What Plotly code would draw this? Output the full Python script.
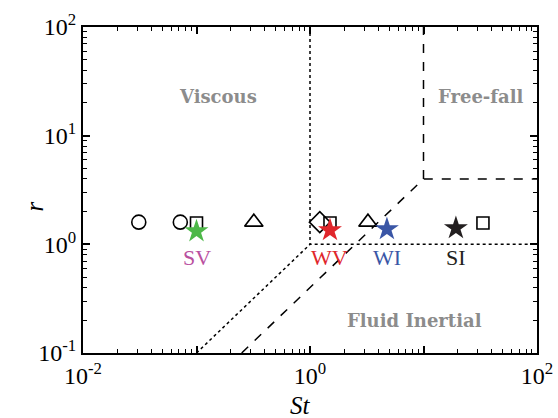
import plotly.graph_objects as go
import numpy as np

# Data points (St, r)
circle_st = [0.031, 0.072]
circle_r = [1.6, 1.6]
square_st = [0.1, 1.5, 33.4]
square_r = [1.57, 1.57, 1.57]
triangle_st = [0.32, 3.24]
triangle_r = [1.6, 1.6]
diamond_st = [1.22]
diamond_r = [1.6]
star_st = [0.1, 1.5, 4.76, 19.3]
star_r = [1.32, 1.35, 1.38, 1.41]
star_colors = ["#4db848", "#e0262b", "#3a56a6", "#231f20"]
star_labels = ["SV", "WV", "WI", "SI"]
label_colors = ["#b9509f", "#e0262b", "#3a56a6", "#231f20"]
label_r = 0.75

# Regime boundaries
dot_a_st = [1, 1, 100]
dot_a_r = [100, 1, 1]
dot_b_st = [0.1, 1]
dot_b_r = [0.1, 1]
dash_a_st = [0.25, 10, 100]
dash_a_r = [0.1, 4, 4]
dash_b_st = [10, 10]
dash_b_r = [4, 100]

regions = ["Viscous", "Free-fall", "Fluid Inertial"]
region_st = [0.155, 32, 8.4]
region_r = [23, 23, 0.2]

FONT = "Liberation Serif"
fig = go.Figure()

def line(x, y, dash):
    fig.add_trace(go.Scatter(x=x, y=y, mode="lines",
                             line=dict(color="black", width=1.5, dash=dash),
                             showlegend=False, hoverinfo="skip"))

line(dot_a_st, dot_a_r, "dot")
line(dot_b_st, dot_b_r, "dot")
line(dash_a_st, dash_a_r, "dash")
line(dash_b_st, dash_b_r, "dash")

def markers(x, y, symbol, size):
    fig.add_trace(go.Scatter(x=x, y=y, mode="markers",
                             marker=dict(symbol=symbol, size=size, color="black",
                                         line=dict(color="black", width=1.6)),
                             showlegend=False))

markers(circle_st, circle_r, "circle-open", 14)
markers(triangle_st, triangle_r, "triangle-up-open", 16)
markers(diamond_st, diamond_r, "diamond-open", 16)
markers(square_st, square_r, "square-open", 12)

fig.add_trace(go.Scatter(x=star_st, y=star_r, mode="markers",
                         marker=dict(symbol="star", size=18, color=star_colors,
                                     line=dict(width=0)),
                         showlegend=False))

for s, lab, c in zip(star_st, star_labels, label_colors):
    fig.add_annotation(x=np.log10(s), y=np.log10(label_r), text=lab, showarrow=False,
                       font=dict(family=FONT, size=22, color=c))

for t, s, r in zip(regions, region_st, region_r):
    fig.add_annotation(x=np.log10(s), y=np.log10(r), text="<b>" + t + "</b>", showarrow=False,
                       font=dict(family="DejaVu Serif", size=18, color="#8c8c8c"))

def minor_vals(lo, hi):
    out = []
    for e in range(lo, hi):
        for m in range(2, 10):
            out.append(m * 10 ** e)
    return out

x_major = [0.01, 0.1, 1, 10, 100]
x_text = ["10<sup>-2</sup>", "", "10<sup>0</sup>", "", "10<sup>2</sup>"]
y_major = [0.1, 1, 10, 100]
y_text = ["10<sup>-1</sup>", "10<sup>0</sup>", "10<sup>1</sup>", "10<sup>2</sup>"]

axis_common = dict(type="log", showgrid=False, zeroline=False, showline=True,
                   linecolor="black", linewidth=2, mirror="ticks", ticks="inside",
                   ticklen=7, tickwidth=1.5, tickcolor="black", automargin=False,
                   tickfont=dict(family=FONT, size=24, color="black"))

fig.update_xaxes(range=[-2, 2], tickmode="array", tickvals=x_major, ticktext=x_text,
                 minor=dict(tickmode="array", tickvals=minor_vals(-2, 2), ticks="inside",
                            ticklen=4, tickwidth=1.2, tickcolor="black"),
                 **axis_common)
fig.update_yaxes(range=[-1, 2], tickmode="array", tickvals=y_major, ticktext=y_text,
                 minor=dict(tickmode="array", tickvals=minor_vals(-1, 2), ticks="inside",
                            ticklen=4, tickwidth=1.2, tickcolor="black"),
                 **axis_common)

fig.add_annotation(xref="paper", yref="paper", x=0.5, y=0, xshift=-10, yshift=-68,
                   text="<i>St</i>", showarrow=False,
                   font=dict(family=FONT, size=25, color="black"))
fig.add_annotation(xref="paper", yref="paper", x=0, y=0.5, xshift=-65, yshift=-17,
                   text="<i>r</i>", textangle=-90, showarrow=False,
                   font=dict(family=FONT, size=25, color="black"))

fig.update_layout(width=558, height=418, margin=dict(l=83, r=21, t=27, b=65),
                  plot_bgcolor="white", paper_bgcolor="white", showlegend=False)

fig.write_html("out.html", config={"displayModeBar": False},
               post_script="document.body.style.margin='0';")
